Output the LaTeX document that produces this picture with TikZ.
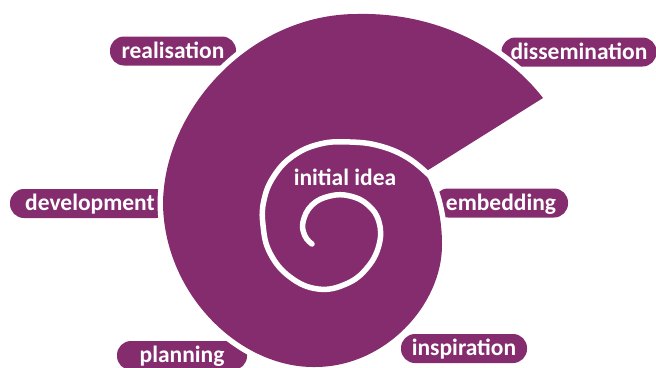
\documentclass[tikz,border=0pt]{standalone}
\usepackage{fontspec}
\setmainfont{Carlito}
\definecolor{plum}{RGB}{132,44,110}
\begin{document}
\begin{tikzpicture}[x=1pt,y=-1pt,
  lab/.style={fill=plum, text=white, font=\fontsize{23.5}{23.5}\selectfont\bfseries,
    rounded corners=14pt, minimum height=29pt, inner sep=0pt,
    text height=16pt, text depth=2pt, anchor=center},
  shell/.style={fill=plum, preaction={draw=white, line width=11pt, line join=round}},
  groove/.style={draw=white, line width=5.5pt, line cap=round, line join=round}]
\useasboundingbox (0,0) rectangle (656,367);
% labels (under the shell)
\node[lab, minimum width=126pt] (real) at (173,51) {realisation};
\node[lab, minimum width=155pt] (diss) at (579,52) {dissemination};
\node[lab, minimum width=160pt] (dev) at (90,203.5) {development};
\node[lab, minimum width=134pt] (emb) at (501,203) {embedding};
\node[lab, minimum width=126pt] (insp) at (464,348.5) {inspiration};
\node[lab, minimum width=130pt] (plan) at (182,355.5) {planning};
% shell
\coordinate (tip) at (543,98);
\coordinate (top) at (357,14);
\coordinate (left) at (163,205);
\coordinate (bot) at (315,367);
\coordinate (right) at (442,245);
\coordinate (cut) at (425,172);
\path[shell] (tip) .. controls (510,55) and (445,12) .. (top)
  .. controls (250,14) and (163,110) .. (left)
  .. controls (165,295) and (240,368) .. (bot)
  .. controls (385,367) and (442,305) .. (right)
  .. controls (442,210) and (433,188) .. (cut) -- cycle;
% spiral groove
\draw[groove] plot[smooth, tension=0.7] coordinates {
  (430,176) (408,158) (380,146) (350,142) (320,144) (293,156) (274,176)
  (264,200) (263,225) (270,253) (290,277) (318,289) (346,284) (367,268)
  (379,245) (379,222) (368,205) (350,196) (330,196) (312,205) (303,222)
  (305,236) (312,244)};
\node[font=\fontsize{23.5}{23.5}\selectfont\bfseries, text=white, inner sep=0pt] (idea) at (345,177) {initial idea};
\end{tikzpicture}
\end{document}
